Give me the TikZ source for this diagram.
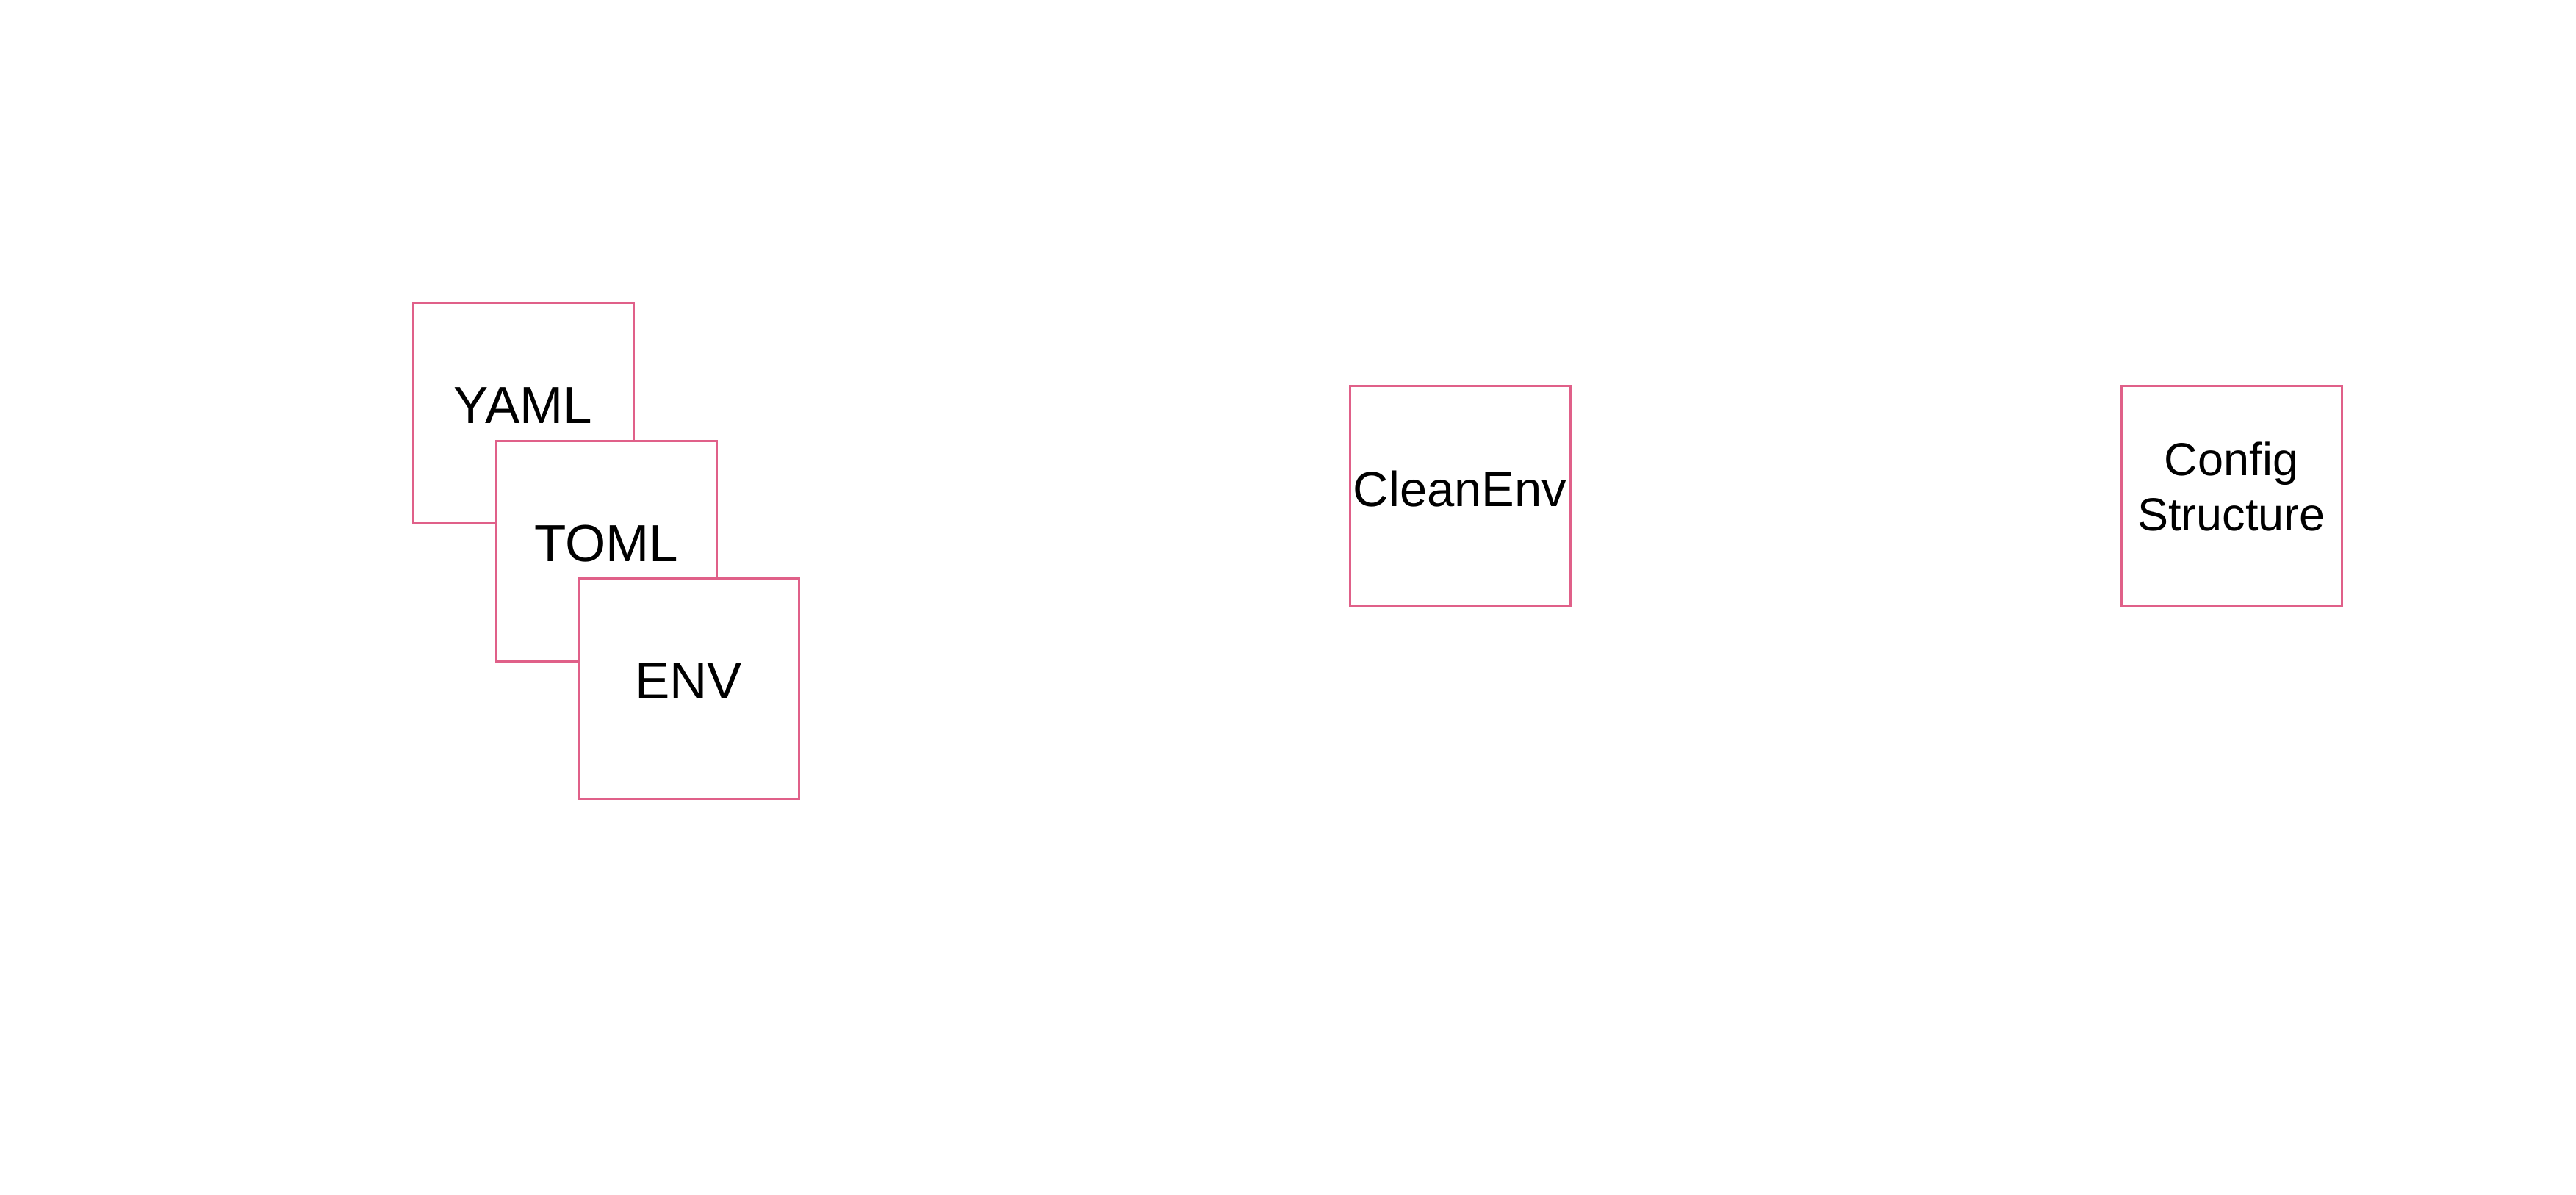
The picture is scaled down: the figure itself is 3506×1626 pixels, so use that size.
\documentclass[tikz,border=0pt]{standalone}
\usepackage{fontspec}
\setmainfont{Liberation Sans}
\definecolor{boxpink}{RGB}{224,96,137}
\begin{document}
\begin{tikzpicture}[x=1pt,y=-1pt,
  box/.style={draw=boxpink, line width=3pt, fill=white, minimum width=300pt, minimum height=300pt, inner sep=0pt, text=black},
  big/.style={font=\fontsize{67}{80}\selectfont, text height=48pt, text depth=20pt},
  bigger/.style={font=\fontsize{71}{85}\selectfont, text height=50pt, text depth=22pt},
  two/.style={font=\fontsize{63}{75}\selectfont, align=center, text height=120pt, text depth=26pt}]
\useasboundingbox (0,0) rectangle (3506,1626);
\node[box,bigger] (yaml) at (712,562) {YAML};
\node[box,bigger] (toml) at (825,750) {TOML};
\node[box,bigger] (env) at (937,937) {ENV};
\node[box,big] (clean) at (1987,675) {CleanEnv};
\node[box,two] (cfg) at (3037,675) {Config\\Structure};
\end{tikzpicture}
\end{document}
